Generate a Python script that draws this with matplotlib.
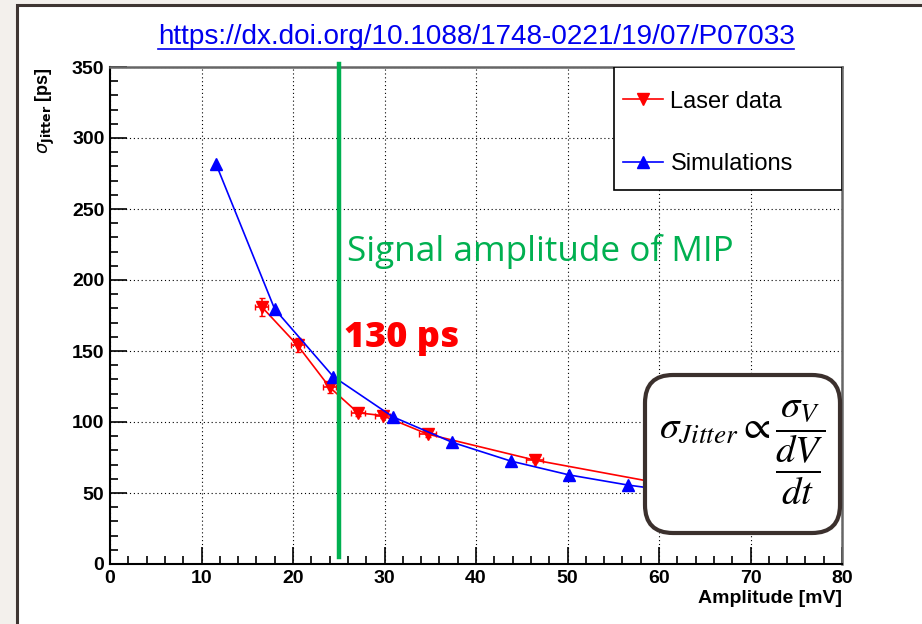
import matplotlib
matplotlib.use("Agg")
import matplotlib.pyplot as plt
from matplotlib.patches import Rectangle, FancyBboxPatch
from matplotlib.lines import Line2D
from matplotlib.ticker import MultipleLocator

# laser measurements
laser_amp = [16.6, 20.5, 24.0, 27.1, 29.8, 34.7, 46.4, 60.0]
laser_jitter = [181, 154, 124.5, 106.5, 104.5, 91.5, 73.2, 57.0]
laser_amp_err = [0.7, 0.7, 0.7, 0.8, 0.8, 0.9, 0.9, 0.9]
laser_jitter_err = [6, 5, 4, 2.5, 2, 2, 1.5, 1.5]

# simulation points
sim_amp = [11.6, 18.0, 24.4, 30.9, 37.4, 43.8, 50.2, 56.6, 63.1]
sim_jitter = [281.5, 179.5, 132, 103.7, 85.7, 72.5, 62.7, 55.6, 50.0]

mip_amp = 25
url = "https://dx.doi.org/10.1088/1748-0221/19/07/P07033"

narrow = ["Liberation Sans Narrow", "Liberation Sans"]
plt.rcParams["mathtext.fontset"] = "stix"

fig = plt.figure(figsize=(9.22, 6.24), dpi=100)
fig.patch.set_facecolor("#f3f0ec")
# white page with dark border
fig.patches.append(Rectangle((17 / 922, -0.05), 1.1, 1 - 5 / 624 + 0.05,
                             transform=fig.transFigure, facecolor="white",
                             edgecolor="#3e3532", linewidth=2.2, zorder=-5))

ax = fig.add_axes([110 / 922, 1 - 564 / 624, 732 / 922, 497 / 624])
ax.set_facecolor("white")
ax.set_xlim(0, 80)
ax.set_ylim(0, 350)

ax.grid(True, color="black", linestyle=(0, (1, 2.5)), linewidth=0.8)
ax.set_axisbelow(True)

ax.errorbar(laser_amp, laser_jitter, xerr=laser_amp_err, yerr=laser_jitter_err,
            color="red", marker="v", markersize=8, linewidth=1.2, elinewidth=1.2,
            capsize=2, label="Laser data", zorder=4)
ax.plot(sim_amp, sim_jitter, color="blue", marker="^", markersize=8,
        linewidth=1.2, label="Simulations", zorder=5)

ax.plot([mip_amp, mip_amp], [5, 352], color="#00b050", linewidth=3.2,
        clip_on=False, zorder=6)

ax.text(25.9, 220, "Signal amplitude of MIP", color="#00b050",
        fontsize=25.3, family="Open Sans", va="center", ha="left", zorder=7)
ax.text(25.6, 159, "130 ps", color="red", fontsize=26, family="Open Sans",
        fontweight="heavy", va="center", ha="left", zorder=7)

# ticks
ax.xaxis.set_major_locator(MultipleLocator(10))
ax.xaxis.set_minor_locator(MultipleLocator(2))
ax.yaxis.set_major_locator(MultipleLocator(50))
ax.yaxis.set_minor_locator(MultipleLocator(10))
ax.tick_params(which="both", direction="in", top=False, right=False, width=1.2)
ax.tick_params(which="major", length=12, pad=4)
ax.tick_params(which="minor", length=6)
for lab in ax.get_xticklabels() + ax.get_yticklabels():
    lab.set_fontfamily(narrow)
    lab.set_fontweight("bold")
    lab.set_fontsize(14)

for side in ["left", "bottom"]:
    ax.spines[side].set_linewidth(1.5)
    ax.spines[side].set_color("black")
for side in ["top", "right"]:
    ax.spines[side].set_linewidth(1.8)
    ax.spines[side].set_color("#666666")

ax.text(1.0, -0.07, "Amplitude [mV]", transform=ax.transAxes, ha="right",
        va="center", fontsize=14, fontweight="bold", family=narrow)
ax.text(-0.088, 1.0, r"$\sigma_{\mathbf{Jitter}}$ [ps]", transform=ax.transAxes,
        rotation=90, ha="center", va="top", fontsize=13, fontweight="bold",
        family="Liberation Sans", math_fontfamily="dejavusans")

# legend with square frame
ax.add_patch(Rectangle((0.689, 0.7525), 0.311, 0.2475, transform=ax.transAxes,
                       facecolor="white", edgecolor="black", linewidth=1.2,
                       zorder=8))
handles = [Line2D([], [], color="red", marker="v", markersize=8, linewidth=1.2),
           Line2D([], [], color="blue", marker="^", markersize=8, linewidth=1.2)]
leg = ax.legend(handles, ["Laser data", "Simulations"], loc="upper left",
                bbox_to_anchor=(0.685, 0.976), frameon=False, borderpad=0,
                labelspacing=1.7, handlelength=1.7, handletextpad=0.3,
                prop={"family": "Liberation Sans", "size": 17})
leg.set_zorder(9)

# formula box
box = FancyBboxPatch((6.45, 0.91), 1.95, 1.58, boxstyle="round,pad=0,rounding_size=0.28",
                     transform=fig.dpi_scale_trans, facecolor="white",
                     edgecolor="#3b302d", linewidth=3.0, zorder=10)
fig.patches.append(box)
fig.text(7.42 / 9.22, 1 - 453 / 624,
         r"$\sigma_{Jitter}\propto\dfrac{\sigma_V}{\dfrac{dV}{dt}}$",
         ha="center", va="center", fontsize=28, zorder=11)

# url title, underlined
t = fig.text(476 / 922, 1 - 37 / 624, url, color="#0000ee", fontsize=20.1,
             family="Liberation Sans", ha="center", va="center")
fig.canvas.draw()
bb = t.get_window_extent().transformed(fig.transFigure.inverted())
fig.add_artist(Line2D([bb.x0, bb.x1], [bb.y0 + 0.002, bb.y0 + 0.002],
                      transform=fig.transFigure, color="#0000ee", linewidth=1.2))

fig.savefig("out.png", dpi=100, facecolor=fig.get_facecolor())
